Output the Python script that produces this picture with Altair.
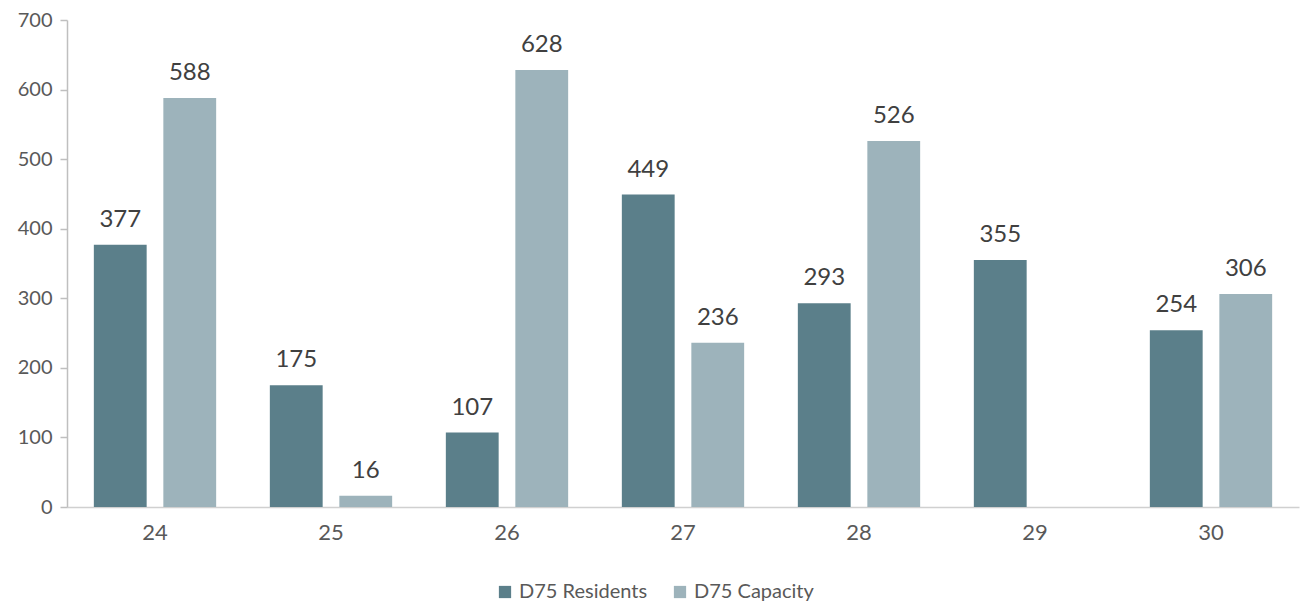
import altair as alt
import pandas as pd

categories = ["24", "25", "26", "27", "28", "29", "30"]
residents = [377, 175, 107, 449, 293, 355, 254]
capacity = [588, 16, 628, 236, 526, None, 306]
series = ["D75 Residents", "D75 Capacity"]
colors = ["#5b7f8a", "#9db3bb"]

rows = []
for c, r, cap in zip(categories, residents, capacity):
    rows.append({"cat": c, "series": series[0], "value": r})
    if cap is not None:
        rows.append({"cat": c, "series": series[1], "value": cap})
df = pd.DataFrame(rows)

FONT = "Lato"

x = alt.X("cat:N", sort=categories, title=None,
          scale=alt.Scale(paddingInner=0.305, paddingOuter=0.1525),
          axis=alt.Axis(labelAngle=0, ticks=False, labelFontSize=22, labelColor="#595959",
                        labelPadding=15, domainColor="#d0d0d0", domainWidth=1.5, labelFont=FONT))
xo = alt.XOffset("series:N", sort=series, scale=alt.Scale(paddingInner=0.24, paddingOuter=0))
y = alt.Y("value:Q", title=None,
          scale=alt.Scale(domain=[0, 700]),
          axis=alt.Axis(values=list(range(0, 701, 100)), grid=False, tickSize=7,
                        tickColor="#bfbfbf", domainColor="#bfbfbf", domainWidth=1.5, tickWidth=1.5,
                        labelFontSize=20, labelColor="#595959", labelPadding=8, labelFont=FONT))

bars = alt.Chart(df).mark_bar().encode(
    x=x, xOffset=xo, y=y,
    color=alt.Color("series:N", sort=series,
                    scale=alt.Scale(domain=series, range=colors),
                    legend=alt.Legend(title=None, orient="none", direction="horizontal",
                                      legendX=428, legendY=562, symbolType="square",
                                      symbolSize=150, symbolStrokeWidth=0,
                                      labelFontSize=20, labelColor="#595959", labelFont=FONT,
                                      columnPadding=22, symbolOffset=0)),
)

labels = alt.Chart(df).mark_text(baseline="alphabetic", dy=-18, fontSize=24,
                                 color="#404040", font=FONT).encode(
    x=alt.X("cat:N", sort=categories),
    xOffset=alt.XOffset("series:N", sort=series),
    y="value:Q",
    text="value:Q",
)

chart = (bars + labels).properties(
    width=1232, height=487,
    padding={"left": 59, "top": 12, "right": 2, "bottom": 94},
    autosize=alt.AutoSizeParams(type="none"),
).configure(font=FONT).configure_view(strokeWidth=0, stroke="transparent")

chart.save("out.html", embed_options={"renderer": "svg", "actions": False})
